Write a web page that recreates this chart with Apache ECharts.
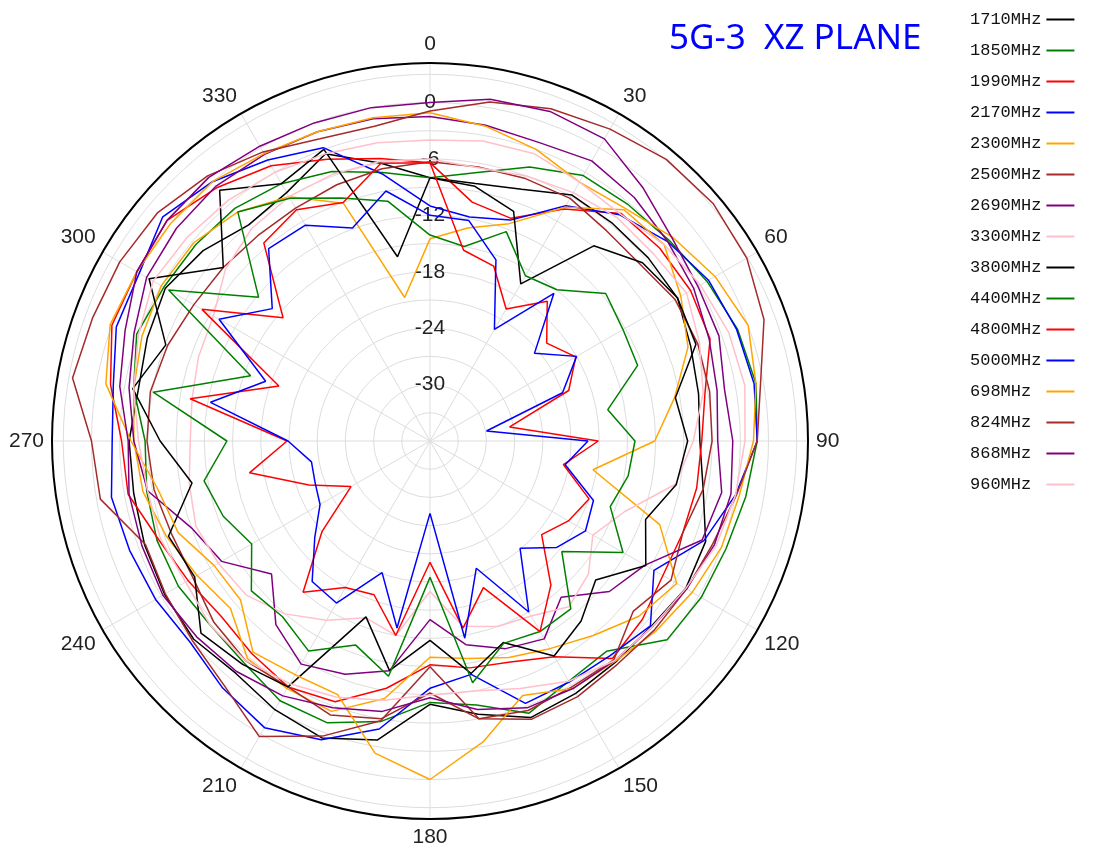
<!DOCTYPE html>
<html>
<head>
<meta charset="utf-8">
<script src="https://cdn.jsdelivr.net/npm/echarts@6/dist/echarts.min.js"></script>
<style>
  html, body { margin: 0; padding: 0; background: #fff; }
  #chart { width: 1102px; height: 850px; }
</style>
</head>
<body>
<div id="chart"></div>
<script>
// angles of the measured points, degrees clockwise from the top
const ANGLES = [0, 10, 20, 30, 40, 50, 60, 70, 80, 90, 100, 110, 120, 130, 140, 150, 160, 170,
  180, 190, 200, 210, 220, 230, 240, 250, 260, 270, 280, 290, 300, 310, 320, 330, 340, 350]

// gain in dB at each angle
const G1710 = [-8, -8.2, -7.5, -5.8, -5.8, -5.7, -5.6, -6.5, -7, -7.3, -6.5, -4.8, -4.6, -5.3, -5.3, -5, -4.7, -6.5,
  -8, -3.7, -2.4, -3, -3.8, -3.2, -3.4, -3.7, -4, -4, -4.5, -4, -3.5, -4.5, -6, -5.5, -3.5, -6]
const G1850 = [-8, -7, -5, -3.4, -3.2, -2.8, -2, -1.2, -0.8, -1.2, -1.9, -2.5, -2.7, -3.1, -6.8, -6.5, -5.2, -7.5,
  -8.2, -5.7, -4.1, -4.1, -5.2, -5.5, -5.1, -5.1, -5.4, -5.7, -4, -2.8, -3.3, -3.5, -3.7, -4.4, -5.5, -7]
const G1990 = [-6.4, -10.2, -10.8, -7.5, -4.4, -4.1, -4, -4.3, -6.3, -7.1, -7.2, -7.4, -7.4, -6.5, -5.8, -9.5, -11, -11.5,
  -12.2, -9.3, -6.5, -5.8, -6.5, -7, -6.3, -5.3, -3.4, -3.2, -1.5, 0, 0, 0.5, -0.8, -2.2, -4.1, -5.5]
const G2170 = [-11, -11.8, -11, -7.1, -4.6, -3, -1.8, -1.3, -1, -1.2, -3, -5, -8.5, -5.4, -6.2, -6.4, -6.3, -10.8,
  -9.7, -4.9, -2.2, -0.8, -1.7, -2.7, -2.3, -2, -1.6, -2.2, -1.8, -0.5, -0.3, 1.1, 0, -1.5, -2.8, -7.2]
const G2300 = [-14.5, -13, -11.4, -7.3, -3.9, -3.5, -5.2, -6.8, -9.6, -12.1, -18.4, -10, -5.7, -7, -9, -10.5, -11.5, -12.5,
  -13, -8.2, -5.4, -5.6, -5.8, -8.3, -7.4, -6.2, -5, -4.5, -4, -3.4, -3, -3.2, -4.2, -6, -9.1, -20.5]
const G2500 = [-6.3, -6.4, -6.3, -6.2, -6.8, -6.8, -5.9, -5.7, -5.8, -6, -6.5, -7.4, -6.4, -7.8, -5.6, -5.8, -5.5, -6,
  -9.2, -6, -5, -5.8, -5.5, -6, -6.9, -6.8, -6.2, -5.9, -5.8, -6.3, -7, -7.3, -7.5, -7.4, -7, -6.6]
const G2690 = [-1.5, -1.9, -2.2, -1.6, -2.2, -3, -3.6, -4.4, -5, -5.4, -4.5, -5.2, -9.6, -11.1, -14.3, -11.7, -12.5, -14,
  -17, -11.2, -9.6, -8.6, -10.5, -14, -10.4, -9, -5.5, -4.5, -3.5, -2.5, -1.2, -0.8, -0.6, -0.8, -1, -1.2]
const G3300 = [-6, -6.5, -6, -5.5, -5, -5, -4.5, -5.5, -6.5, -8, -9.5, -14, -16, -14, -13, -14.5, -15, -16,
  -20, -15, -16, -14, -12, -10.5, -10, -9.5, -10, -10.5, -10.3, -9.8, -9.4, -7.6, -6.5, -6, -5.8, -5.8]
const G3800 = [-8, -8.5, -10, -16.7, -8.9, -6.5, -5.6, -5.9, -9.5, -8.6, -9.4, -11.6, -9.5, -13, -11, -9.6, -13.2, -10.9,
  -14.8, -11.2, -16.1, -5.8, -5, -4.2, -7.1, -6.4, -10.3, -7.3, -3.9, -6.1, -1.5, -7.3, -1.2, -4.4, -3, -16.1]
const G4400 = [-14.1, -15, -12.3, -15.7, -15, -11.6, -12.3, -12.5, -16.8, -14.2, -14.6, -15.6, -12.3, -17.7, -12.7, -12.6, -13.1, -9.9,
  -21.5, -10.6, -12.9, -10.2, -11.6, -11.2, -14.1, -12.6, -11.6, -14.4, -6.1, -15.7, -3.9, -12.2, -4.2, -6.2, -8.5, -10.1]
const G4800 = [-6.4, -15.4, -16.2, -19.8, -16.6, -19.8, -18.1, -20.3, -27.4, -18.1, -21.6, -18, -19, -20.5, -16, -12.6, -19.4, -15.8,
  -23.1, -15, -18.6, -18, -15, -21, -26.3, -22.3, -16.5, -20.8, -10.1, -18.9, -8, -15.6, -8.5, -7.6, -9, -6]
const G5000 = [-12, -12.2, -15.5, -22.3, -15.5, -21.5, -18, -21, -29.9, -19.2, -21.4, -17.5, -16.9, -18.4, -21.1, -15, -21.6, -14.7,
  -28.3, -15.8, -21.1, -16.1, -16.5, -20, -22.5, -23, -23.2, -20.9, -12.3, -17.4, -10.1, -14.1, -9.3, -9.5, -11.9, -9]
const G698 = [-1.1, -2, -3, -4.2, -3.7, -2.3, -1, 0, -0.8, -1.6, -2.6, -3, -3.8, -4.6, -5.4, -5.6, -7.2, -3.5,
  0, -2.3, -7.3, -7.3, -6.7, -9.7, -9.5, -7.5, -6.6, -4.2, -1, 0.2, 0, 0, 0, -0.7, -1, -1.1]
const G824 = [-0.9, 0.6, 1.6, 2.3, 3.1, 3.3, 2.9, 1.8, -0.3, -1.2, -2.9, -4, -4.5, -4.8, -5, -4.6, -4.5, -6,
  -12, -5.8, -2.6, 0.3, -2, -3, -3.5, -3.8, -0.4, 0, 2.6, 2.2, 2.1, 1.8, 0.8, -0.5, -1.8, -2]
const G868 = [0, 0.9, 1.3, 1.1, -0.8, -2.4, -3.1, -3.3, -4.2, -3.8, -3.5, -3.8, -4.5, -5.2, -5.5, -5.6, -5.8, -7,
  -8.7, -6.8, -5.8, -4.7, -4, -3.6, -3.2, -3.4, -3.5, -3.9, -2.5, -1.5, 0, 0.5, 0.6, 0.2, 0, 0]
const G960 = [-4, -3.6, -3.5, -4.2, -4.5, -3.5, -2.8, -2.2, -2, -2.5, -3, -3.6, -4.6, -5.2, -5.5, -6.5, -8, -9,
  -9, -8, -7, -6.2, -5.5, -5.5, -6, -5.5, -5.5, -5, -4, -3, -2, -2.3, -2.6, -3, -3.5, -3.8]

const NAMES = ['1710MHz', '1850MHz', '1990MHz', '2170MHz', '2300MHz', '2500MHz', '2690MHz', '3300MHz',
  '3800MHz', '4400MHz', '4800MHz', '5000MHz', '698MHz', '824MHz', '868MHz', '960MHz']
const GAINS = [G1710, G1850, G1990, G2170, G2300, G2500, G2690, G3300,
  G3800, G4400, G4800, G5000, G698, G824, G868, G960]
const COLORS = ['#000000', '#008000', '#ff0000', '#0000ff', '#ffa500', '#a52a2a', '#800080', '#ffc0cb',
  '#000000', '#008000', '#ff0000', '#0000ff', '#ffa500', '#a52a2a', '#800080', '#ffc0cb']

const RADIUS_LABELS = [0, -6, -12, -18, -24, -30]

const chart = echarts.init(document.getElementById('chart'), null, { renderer: 'canvas' })

// close each trace by repeating the first point at 360
function traceData(gains) {
  const pts = gains.map((g, i) => [g, ANGLES[i]])
  pts.push([gains[0], 360])
  return pts
}

const option = {
  animation: false,
  backgroundColor: '#ffffff',
  title: {
    text: '5G-3  XZ PLANE',
    left: 664,
    top: 17,
    textStyle: { color: '#0000ff', fontSize: 35, fontWeight: 'normal', fontFamily: 'Noto Sans' }
  },
  legend: {
    orient: 'vertical',
    left: 965,
    top: 6,
    align: 'right',
    icon: 'rect',
    itemWidth: 28,
    itemHeight: 2,
    itemGap: 14,
    itemStyle: { borderWidth: 0 },
    data: NAMES,
    // monospace text padded to 7 characters so every line sample sits at the same x
    formatter: name => name.padEnd(7, ' '),
    textStyle: {
      fontFamily: 'Liberation Mono',
      fontSize: 17,
      color: '#111',
      lineHeight: 17
    }
  },
  polar: {
    center: [430, 441],
    radius: 378
  },
  angleAxis: {
    type: 'value',
    min: 0,
    max: 360,
    interval: 30,
    startAngle: 90,
    clockwise: true,
    axisLine: { lineStyle: { color: '#000', width: 2 } },
    axisTick: { show: false },
    axisLabel: {
      margin: 8,
      color: '#222',
      fontSize: 21,
      fontFamily: 'Liberation Sans',
      formatter: v => (v === 360 ? '' : String(v))
    },
    splitLine: { lineStyle: { color: '#dddddd', width: 1 } }
  },
  radiusAxis: {
    type: 'value',
    min: -36,
    max: 4.2,
    interval: 3,
    axisLine: { show: false },
    axisTick: { show: false },
    axisLabel: {
      margin: 0,
      align: 'center',
      verticalAlign: 'middle',
      color: '#222',
      fontSize: 21,
      fontFamily: 'Liberation Sans',
      formatter: v => (RADIUS_LABELS.indexOf(v) >= 0 ? String(v) : '')
    },
    splitLine: { lineStyle: { color: '#dddddd', width: 1 } }
  },
  series: NAMES.map((name, i) => ({
    name: name,
    type: 'line',
    coordinateSystem: 'polar',
    data: traceData(GAINS[i]),
    symbol: 'none',
    color: COLORS[i],
    lineStyle: { width: 1.5, color: COLORS[i] },
    z: 3
  }))
}

chart.setOption(option)
</script>
</body>
</html>
